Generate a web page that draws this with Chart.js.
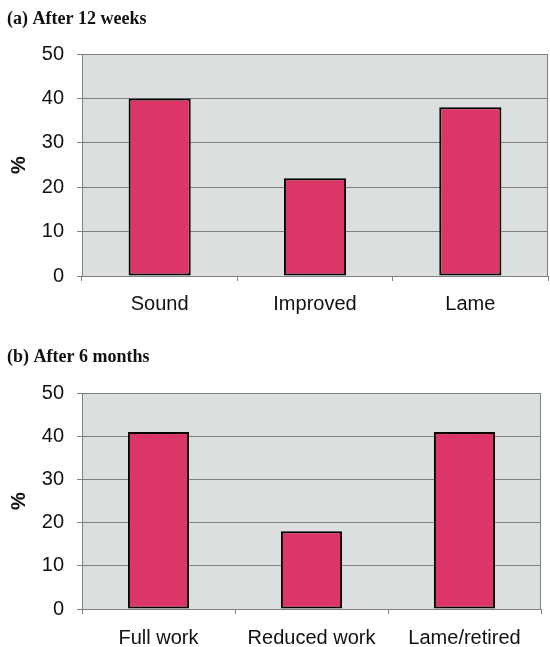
<!DOCTYPE html>
<html>
<head>
<meta charset="utf-8">
<script src="https://cdn.jsdelivr.net/npm/chart.js@4.4.0/dist/chart.umd.min.js"></script>
<style>
  html, body { margin: 0; padding: 0; background: #ffffff; overflow: hidden; }
  #wrapA { position: absolute; left: 0; top: 0; width: 550px; height: 330px; }
  #wrapB { position: absolute; left: 0; top: 330px; width: 550px; height: 317px; }
</style>
</head>
<body>
<div id="wrapA"><canvas id="chartA"></canvas></div>
<div id="wrapB"><canvas id="chartB"></canvas></div>
<script>
// ---- data ----
const titleA = '(a) After 12 weeks';
const categoriesA = ['Sound', 'Improved', 'Lame'];
const valuesA = [40, 22, 38];

const titleB = '(b) After 6 months';
const categoriesB = ['Full work', 'Reduced work', 'Lame/retired'];
const valuesB = [41, 18, 41];

const yAxisLabel = '%';
const yMin = 0, yMax = 50, yStep = 10;

// ---- styling ----
const plotBg = '#dcdfdf';
const gridColor = '#808080';
const barColor = '#dc3669';
const barBorder = '#000000';
const textColor = '#111111';

const plotAreaPlugin = {
  id: 'plotArea',
  beforeDraw(chart) {
    const a = chart.chartArea, ctx = chart.ctx;
    ctx.save();
    ctx.fillStyle = plotBg;
    ctx.fillRect(a.left, a.top, a.right - a.left, a.bottom - a.top);
    ctx.restore();
  },
  afterDraw(chart) {
    const a = chart.chartArea, ctx = chart.ctx;
    ctx.save();
    ctx.strokeStyle = gridColor;
    ctx.lineWidth = 1;
    ctx.strokeRect(a.left + 0.5, a.top + 0.5, a.right - a.left - 1, a.bottom - a.top);
    ctx.restore();
  }
};

function makeChart(id, title, cats, vals, cfg) {
  return new Chart(document.getElementById(id), {
    type: 'bar',
    data: {
      labels: cats,
      datasets: [{
        data: vals,
        backgroundColor: barColor,
        borderColor: barBorder,
        borderWidth: 2,
        borderSkipped: false,
        barPercentage: 0.4,
        categoryPercentage: 1.0
      }]
    },
    options: {
      responsive: true,
      maintainAspectRatio: false,
      animation: false,
      layout: { padding: { left: 7, right: cfg.padRight, top: 0, bottom: 0 } },
      plugins: {
        legend: { display: false },
        tooltip: { enabled: false },
        title: {
          display: true,
          text: title,
          align: 'start',
          color: textColor,
          font: { family: '"Liberation Serif", "Times New Roman", serif', size: 18, weight: 'bold', lineHeight: 1.2 },
          padding: { top: cfg.titleTop, bottom: cfg.titleBottom }
        }
      },
      scales: {
        x: {
          grid: { display: true, drawOnChartArea: false, drawTicks: true, tickLength: 5, color: gridColor, offset: true },
          border: { display: true, color: gridColor, width: 1 },
          ticks: {
            color: textColor,
            padding: cfg.xPad,
            maxRotation: 0,
            autoSkip: false,
            font: { family: '"Liberation Sans", Arial, sans-serif', size: 20, lineHeight: 1.2 }
          },
          afterFit(scale) { scale.height = cfg.xHeight; }
        },
        y: {
          min: yMin, max: yMax,
          grid: { color: gridColor, lineWidth: 1, drawTicks: true, tickLength: 5 },
          border: { display: true, color: gridColor, width: 1 },
          ticks: {
            stepSize: yStep,
            color: textColor,
            padding: 13,
            font: { family: '"Liberation Sans", Arial, sans-serif', size: 20, lineHeight: 1.2 }
          },
          title: {
            display: true,
            text: yAxisLabel,
            color: textColor,
            padding: { top: 0, bottom: 0 },
            font: { family: '"Liberation Sans", Arial, sans-serif', size: 20, weight: 'bold', lineHeight: 1.2 }
          },
          afterFit(scale) { scale.width = 75; }
        }
      }
    },
    plugins: [plotAreaPlugin]
  });
}

makeChart('chartA', titleA, categoriesA, valuesA, {
  padRight: 2, titleTop: 9, titleBottom: 23.4, xHeight: 54, xPad: 11
});
makeChart('chartB', titleB, categoriesB, valuesB, {
  padRight: 9, titleTop: 16.2, titleBottom: 25.2, xHeight: 38, xPad: 12
});
</script>
</body>
</html>
